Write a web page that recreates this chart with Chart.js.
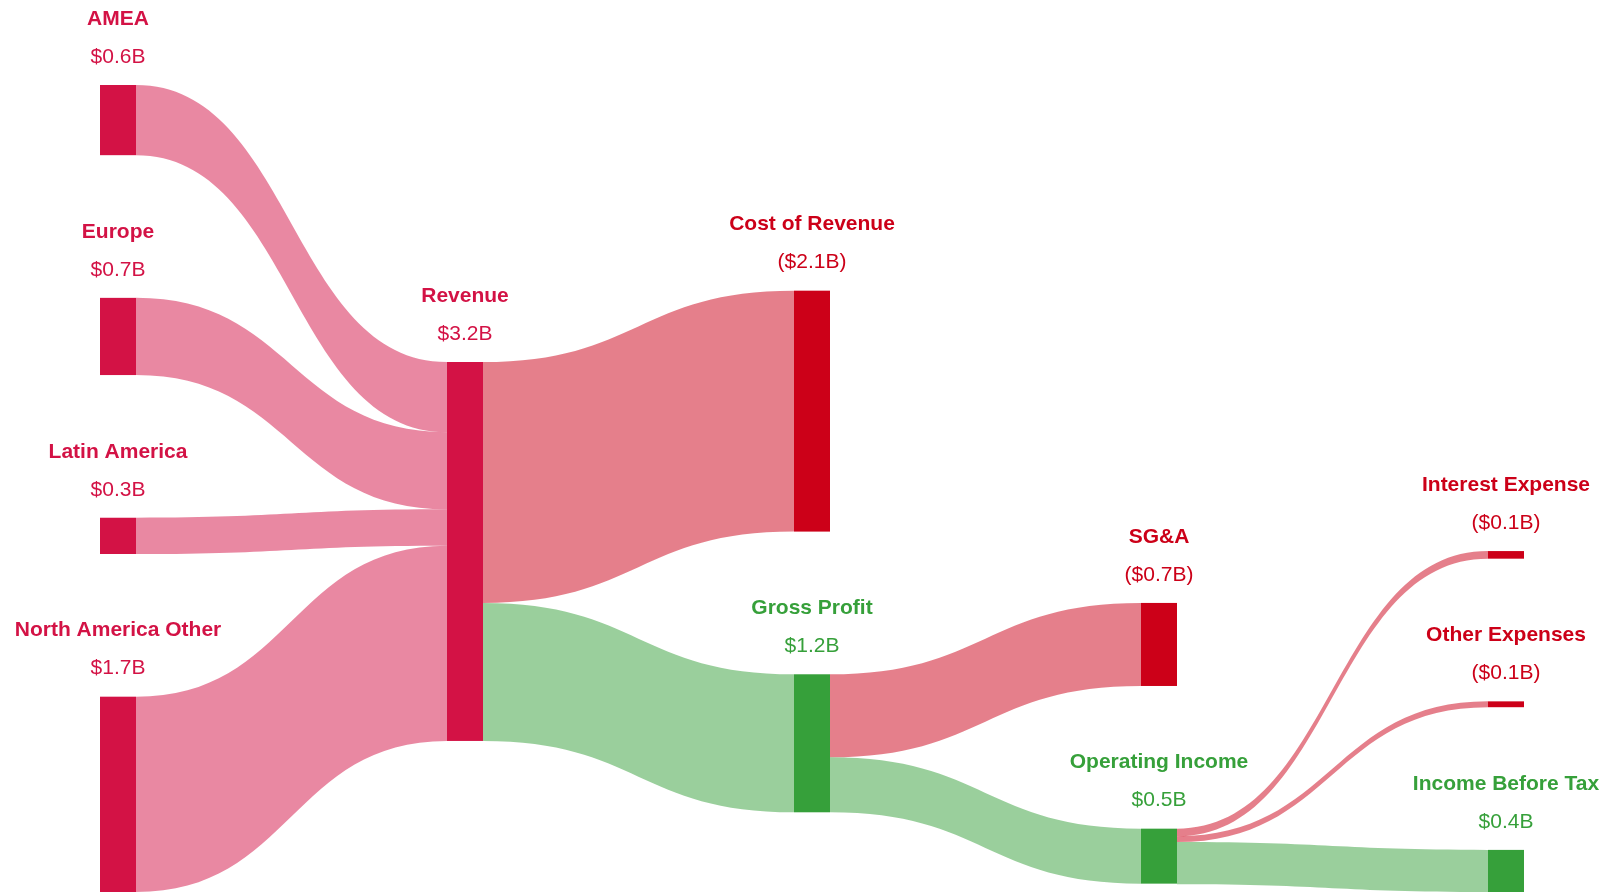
<!DOCTYPE html>
<html>
<head>
<meta charset="utf-8">
<script src="https://cdn.jsdelivr.net/npm/chart.js@4/dist/chart.umd.min.js"></script>
<style>
  html, body { margin: 0; padding: 0; background: #fff; }
  canvas { display: block; }
</style>
</head>
<body>
<canvas id="sankey_chart" width="1608" height="893"></canvas>
<script>
// nodes
var nodeNames = ['AMEA', 'Europe', 'Latin America', 'North America Other', 'Revenue',
                 'Cost of Revenue', 'Gross Profit', 'SG&A', 'Operating Income',
                 'Interest Expense', 'Other Expenses', 'Income Before Tax'];
var nodeValues = [0.60, 0.66, 0.31, 1.67, 3.24, 2.06, 1.18, 0.71, 0.47, 0.065, 0.05, 0.36];
var nodeColumns = [0, 0, 0, 0, 1, 2, 2, 3, 3, 4, 4, 4];
var nodeKinds = ['source', 'source', 'source', 'source', 'source',
                 'cost', 'profit', 'cost', 'profit', 'cost', 'cost', 'profit'];

// flows
var linkFrom = ['AMEA', 'Europe', 'Latin America', 'North America Other',
                'Revenue', 'Revenue', 'Gross Profit', 'Gross Profit',
                'Operating Income', 'Operating Income', 'Operating Income'];
var linkTo = ['Revenue', 'Revenue', 'Revenue', 'Revenue',
              'Cost of Revenue', 'Gross Profit', 'SG&A', 'Operating Income',
              'Interest Expense', 'Other Expenses', 'Income Before Tax'];
var linkValues = [0.60, 0.66, 0.31, 1.67, 2.06, 1.18, 0.71, 0.47, 0.065, 0.05, 0.36];

var kindColor = { source: '#D31245', cost: '#CC0018', profit: '#36A03A' };
var kindLink = { source: 'rgba(211,18,69,0.5)', cost: 'rgba(204,0,24,0.5)', profit: 'rgba(54,160,58,0.5)' };

var nodePad = 1.22;   // gap between nodes, in $B
var nodeWidth = 36;   // px

// --- layout in value units ---
var columns = [];
nodeColumns.forEach(function(c, i) { (columns[c] = columns[c] || []).push(i); });

var yMax = Math.max.apply(null, columns.map(function(col) {
    return col.reduce(function(s, i) { return s + nodeValues[i]; }, 0) + (col.length - 1) * nodePad;
}));

var links = linkFrom.map(function(f, k) {
    return { s: nodeNames.indexOf(f), t: nodeNames.indexOf(linkTo[k]), v: linkValues[k] };
});

var y0 = [], y1 = [];
var pos = 0;
columns[0].forEach(function(i) {
    y0[i] = pos; y1[i] = pos + nodeValues[i]; pos = y1[i] + nodePad;
});

function outOffset(l) {
    var off = 0;
    for (var k = 0; k < links.length; k++) {
        if (links[k] === l) break;
        if (links[k].s === l.s) off += links[k].v;
    }
    return off;
}

for (var c = 1; c < columns.length; c++) {
    var col = columns[c];
    col.forEach(function(i) {
        var sum = 0, w = 0;
        links.forEach(function(l) {
            if (l.t !== i) return;
            sum += (y0[l.s] + outOffset(l) + l.v / 2) * l.v;
            w += l.v;
        });
        var mid = sum / w;
        y0[i] = mid - nodeValues[i] / 2;
        y1[i] = mid + nodeValues[i] / 2;
    });
    col.sort(function(a, b) { return y0[a] - y0[b]; });
    for (var it = 0; it < 200; it++) {
        for (var j = 1; j < col.length; j++) {
            var a = col[j - 1], b = col[j];
            var d = y1[a] + nodePad - y0[b];
            if (d > 1e-9) {
                y0[a] -= d / 2; y1[a] -= d / 2;
                y0[b] += d / 2; y1[b] += d / 2;
            }
        }
    }
    var last = col[col.length - 1];
    if (y1[last] > yMax) {
        var lim = yMax;
        for (var j2 = col.length - 1; j2 >= 0; j2--) {
            var n = col[j2];
            if (y1[n] > lim) { var dd = y1[n] - lim; y0[n] -= dd; y1[n] -= dd; }
            lim = y0[n] - nodePad;
        }
    }
    if (y0[col[0]] < 0) {
        var top = 0;
        col.forEach(function(n) {
            if (y0[n] < top) { var dd = top - y0[n]; y0[n] += dd; y1[n] += dd; }
            top = y1[n] + nodePad;
        });
    }
}

function inOffset(l) {
    var inc = links.filter(function(k) { return k.t === l.t; })
                   .sort(function(a, b) { return y0[a.s] - y0[b.s]; });
    var off = 0;
    for (var k = 0; k < inc.length; k++) {
        if (inc[k] === l) break;
        off += inc[k].v;
    }
    return off;
}

function fmt(i) {
    var s = '$' + nodeValues[i].toFixed(1) + 'B';
    return nodeKinds[i] === 'cost' ? '(' + s + ')' : s;
}

var sankeyPlugin = {
    id: 'sankey',
    afterDatasetsDraw: function(chart) {
        var ctx = chart.ctx;
        var xs = chart.scales.x, ys = chart.scales.y;
        ctx.save();

        links.forEach(function(l) {
            var sx = xs.getPixelForValue(nodeColumns[l.s]) + nodeWidth / 2;
            var tx = xs.getPixelForValue(nodeColumns[l.t]) - nodeWidth / 2;
            var so = y0[l.s] + outOffset(l), to = y0[l.t] + inOffset(l);
            var sy0 = ys.getPixelForValue(so), sy1 = ys.getPixelForValue(so + l.v);
            var ty0 = ys.getPixelForValue(to), ty1 = ys.getPixelForValue(to + l.v);
            var mx = (sx + tx) / 2;
            ctx.beginPath();
            ctx.moveTo(sx, sy0);
            ctx.bezierCurveTo(mx, sy0, mx, ty0, tx, ty0);
            ctx.lineTo(tx, ty1);
            ctx.bezierCurveTo(mx, ty1, mx, sy1, sx, sy1);
            ctx.closePath();
            ctx.fillStyle = kindLink[nodeKinds[l.t]];
            ctx.fill();
        });

        nodeNames.forEach(function(name, i) {
            var cx = xs.getPixelForValue(nodeColumns[i]);
            var top = ys.getPixelForValue(y0[i]);
            var bot = ys.getPixelForValue(y1[i]);
            ctx.fillStyle = kindColor[nodeKinds[i]];
            ctx.fillRect(cx - nodeWidth / 2, top, nodeWidth, bot - top);

            ctx.textAlign = 'center';
            ctx.textBaseline = 'middle';
            ctx.font = 'bold 21px "Liberation Sans", Arial, sans-serif';
            ctx.fillText(name, cx, top - 66);
            ctx.font = '21px "Liberation Sans", Arial, sans-serif';
            ctx.fillText(fmt(i), cx, top - 28);
        });
        ctx.restore();
    }
};

new Chart(document.getElementById('sankey_chart'), {
    type: 'scatter',
    data: { datasets: [{ data: [] }] },
    options: {
        responsive: false,
        animation: false,
        layout: { padding: { left: 118, right: 102, top: 85, bottom: 1 } },
        plugins: { legend: { display: false }, tooltip: { enabled: false } },
        scales: {
            x: { type: 'linear', min: 0, max: 4, display: false },
            y: { type: 'linear', min: 0, max: yMax, reverse: true, display: false }
        }
    },
    plugins: [sankeyPlugin]
});
</script>
</body>
</html>
